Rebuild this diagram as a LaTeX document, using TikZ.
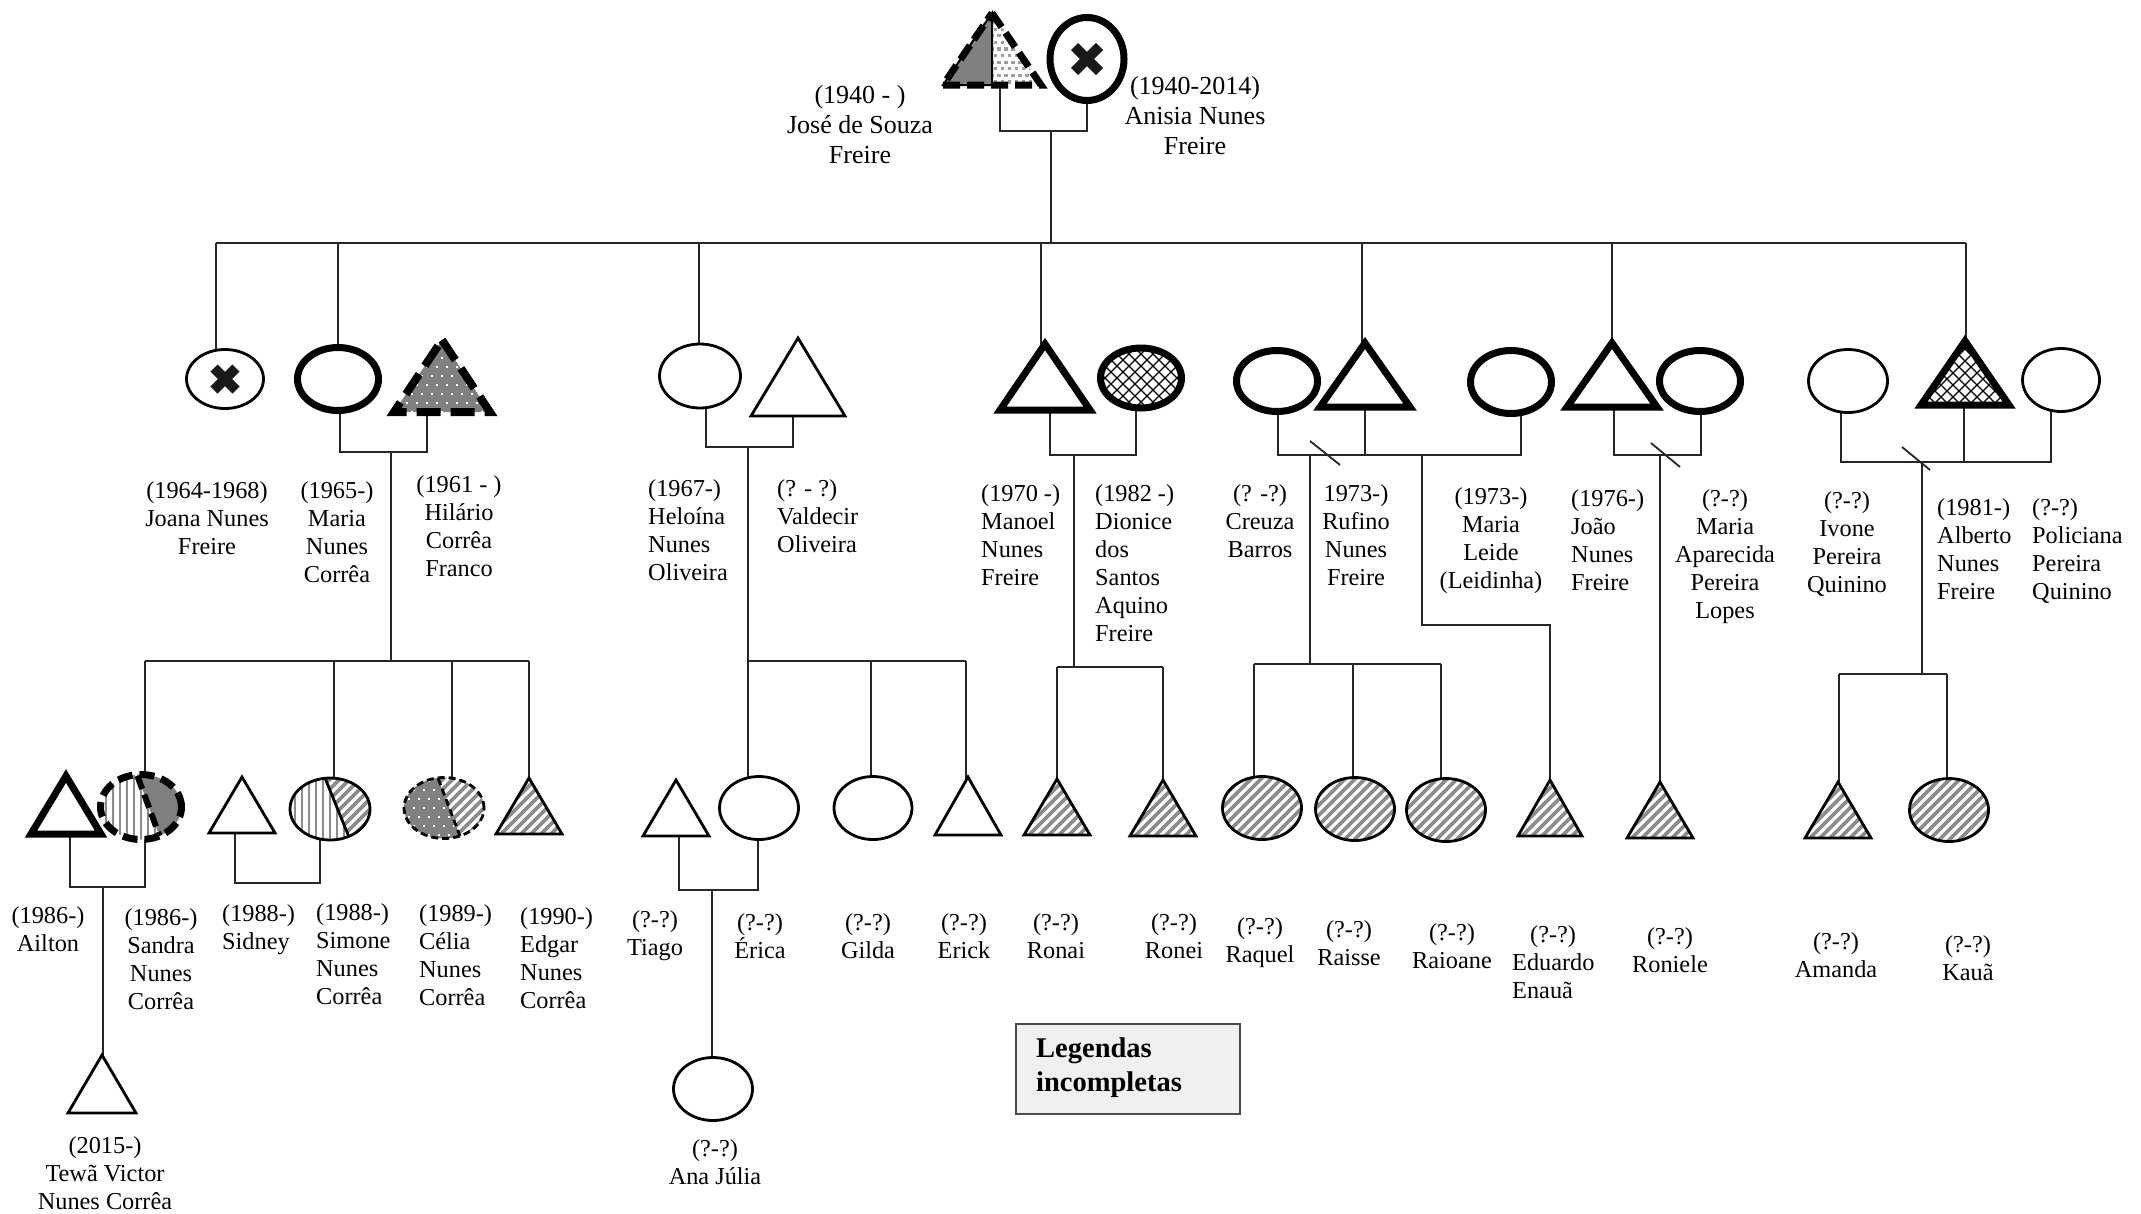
\documentclass[tikz,border=0pt]{standalone}
\usepackage{fontspec}
\setmainfont{Liberation Serif}
% local outlines: triangle (half width, half height) and ellipse (radii)
\newcommand\trip[2]{(0,-#2) -- (#1,#2) -- (-#1,#2) -- cycle}
\newcommand\ellp[2]{(0,0) ellipse [x radius=#1pt, y radius=#2pt]}
% fill patterns, drawn in local coordinates and clipped by the caller
\newcommand\PatDiag{\foreach \t in {-140,-130,...,140}{\draw[black!45,line width=3.6pt] ({\t-70},70) -- ({\t+70},-70);}}
\newcommand\PatVert{\foreach \t in {-63,-56,...,63}{\draw[black!45,line width=2.8pt] (\t,-70) -- (\t,70);}}
\newcommand\PatCross{\foreach \t in {-144,-132,...,144}{\draw[line width=1.2pt] ({\t-70},70) -- ({\t+70},-70);\draw[line width=1.2pt] ({\t-70},-70) -- ({\t+70},70);}}
\newcommand\PatWDots{\foreach \i in {-7,...,7}{\foreach \j in {-8,...,8}{\fill[white] ({\i*10+5*mod(\j+20,2)-1.1},{\j*9-1.1}) rectangle +(2.2,2.2);}}}
\newcommand\PatGDots{\foreach \i in {-10,...,10}{\foreach \j in {-10,...,10}{\fill[black!38] ({\i*7+3.5*mod(\j+20,2)-1.6},{\j*6.6-1.6}) rectangle +(3.2,3.2);}}}
\newcommand\Xmark[1]{\draw[line width=10pt,black!90] (-#1,-#1) -- (#1,#1) (-#1,#1) -- (#1,-#1);}
\newcommand\plainshape[2]{\fill[white] #2; \draw[#1] #2;}
\newcommand\stripedshape[2]{\begin{scope}\clip #2; \fill[white] #2; \PatDiag\end{scope}\draw[#1] #2;}
\begin{document}
\begin{tikzpicture}[x=1pt,y=-1pt,
  link/.style={line width=1.8pt,draw=black!85},
  norml/.style={line width=2.8pt},
  boldl/.style={line width=7pt},
  lab/.style={font=\fontsize{24.3}{28}\selectfont,align=center,anchor=north,inner sep=0pt},
  labl/.style={lab,align=left,anchor=north west},
  labtop/.style={font=\fontsize{26}{30}\selectfont,align=center,anchor=north,inner sep=0pt}]

\useasboundingbox (0,0) rectangle (2141,1213);
\fill[white] (0,0) rectangle (2141,1213);

% ---------- people (shape centres)
\coordinate (jose) at (992,49);
\coordinate (anisia) at (1087,59);
\coordinate (joana) at (225,379);
\coordinate (maria) at (338,379);
\coordinate (hilario) at (442,376);
\coordinate (heloina) at (700,376);
\coordinate (valdecir) at (798,377);
\coordinate (manoel) at (1045,377);
\coordinate (dionice) at (1141,378);
\coordinate (creuza) at (1277,381);
\coordinate (rufino) at (1365,375);
\coordinate (leide) at (1511,382);
\coordinate (joao) at (1612,375);
\coordinate (aparecida) at (1700,381);
\coordinate (ivone) at (1848,381);
\coordinate (alberto) at (1965,373);
\coordinate (policiana) at (2061,380);
\coordinate (ailton) at (66,805);
\coordinate (sandra) at (141,807);
\coordinate (sidney) at (242,805);
\coordinate (simone) at (330,809);
\coordinate (celia) at (444,808);
\coordinate (edgar) at (529,806);
\coordinate (tewa) at (102,1084);
\coordinate (tiago) at (676,808);
\coordinate (erica) at (759,808);
\coordinate (gilda) at (873,808);
\coordinate (erick) at (968,806);
\coordinate (ronai) at (1057,807);
\coordinate (ronei) at (1163,808);
\coordinate (raquel) at (1262,808);
\coordinate (raisse) at (1355,809);
\coordinate (raioane) at (1446,810);
\coordinate (eduardo) at (1550,808);
\coordinate (roniele) at (1660,810);
\coordinate (amanda) at (1838,810);
\coordinate (kaua) at (1949,810);
\coordinate (anajulia) at (713,1089);

% ---------- unions and sibling bars
\coordinate (u0) at (1051,131);  \coordinate (s0) at (1051,243);
\coordinate (u1) at (391,452);   \coordinate (s1) at (391,661);
\coordinate (u2) at (748,447);   \coordinate (s2) at (748,661);
\coordinate (u3) at (1074,455);  \coordinate (s3) at (1074,667);
\coordinate (u4) at (1310,455);  \coordinate (s4) at (1310,664);
\coordinate (u5) at (1422,455);  \coordinate (k5) at (1422,625);
\coordinate (u6) at (1660,455);
\coordinate (u7) at (1922,462);  \coordinate (s7) at (1922,674);
\coordinate (u8) at (103,887);
\coordinate (u9) at (280,883);
\coordinate (u10) at (712,890);

% ---------- connectors
\draw[link] ([xshift=8pt]jose) |- (u0) -| (anisia);
\draw[link] (u0) -- (s0);
\draw[link] ([xshift=-9pt]joana |- s0) -- ([xshift=1pt]alberto |- s0);
\draw[link] ([xshift=-9pt]joana |- s0) -- ([xshift=-9pt]joana);
\draw[link] (maria |- s0) -- (maria);
\draw[link] ([xshift=-1pt]heloina |- s0) -- ([xshift=-1pt]heloina);
\draw[link] ([xshift=-4pt]manoel |- s0) -- ([xshift=-4pt]manoel);
\draw[link] ([xshift=-3pt]rufino |- s0) -- ([xshift=-3pt]rufino);
\draw[link] (joao |- s0) -- (joao);
\draw[link] ([xshift=1pt]alberto |- s0) -- ([xshift=1pt]alberto);

\draw[link] ([xshift=2pt]maria) |- (u1) -| ([xshift=-15pt]hilario);
\draw[link] (u1) -- (s1);
\draw[link] ([xshift=4pt]sandra |- s1) -- (edgar |- s1);
\draw[link] ([xshift=4pt]sandra |- s1) -- ([xshift=4pt]sandra);
\draw[link] ([xshift=4pt]simone |- s1) -- ([xshift=4pt]simone);
\draw[link] ([xshift=8pt]celia |- s1) -- ([xshift=8pt]celia);
\draw[link] (edgar |- s1) -- (edgar);

\draw[link] ([xshift=6pt]heloina) |- (u2) -| ([xshift=-5pt]valdecir);
\draw[link] (u2) -- (s2);
\draw[link] (s2) -- ([xshift=-2pt]erick |- s2);
\draw[link] (s2) -- ([xshift=-11pt]erica);
\draw[link] ([xshift=-2pt]gilda |- s2) -- ([xshift=-2pt]gilda);
\draw[link] ([xshift=-2pt]erick |- s2) -- ([xshift=-2pt]erick);

\draw[link] ([xshift=5pt]manoel) |- (u3) -| ([xshift=-5pt]dionice);
\draw[link] (u3) -- (s3);
\draw[link] (ronai |- s3) -- (ronei |- s3);
\draw[link] (ronai |- s3) -- (ronai);
\draw[link] (ronei |- s3) -- (ronei);

\draw[link] ([xshift=1pt]creuza) |- ([xshift=10pt]leide |- u4) -- ([xshift=10pt]leide);
\draw[link] (rufino) -- (rufino |- u4);
\draw[link] ([yshift=14pt]u4) -- ++(30,24);
\draw[link] (u4) -- (s4);
\draw[link] ([xshift=-8pt]raquel |- s4) -- ([xshift=-5pt]raioane |- s4);
\draw[link] ([xshift=-8pt]raquel |- s4) -- ([xshift=-8pt]raquel);
\draw[link] ([xshift=-2pt]raisse |- s4) -- ([xshift=-2pt]raisse);
\draw[link] ([xshift=-5pt]raioane |- s4) -- ([xshift=-5pt]raioane);
\draw[link] (u5) |- (k5) -| (eduardo);

\draw[link] ([xshift=2pt]joao) |- (u6) -| ([xshift=1pt]aparecida);
\draw[link] ([shift={(-9pt,12pt)}]u6) -- ++(29,24);
\draw[link] (u6) -- (roniele);

\draw[link] ([xshift=-7pt]ivone) |- ([xshift=-10pt]policiana |- u7) -- ([xshift=-10pt]policiana);
\draw[link] ([xshift=-1pt]alberto) -- ([xshift=-1pt]alberto |- u7);
\draw[link] ([shift={(-20pt,15pt)}]u7) -- ++(28,23);
\draw[link] (u7) -- (s7);
\draw[link] ([xshift=1pt]amanda |- s7) -- ([xshift=-2pt]kaua |- s7);
\draw[link] ([xshift=1pt]amanda |- s7) -- ([xshift=1pt]amanda);
\draw[link] ([xshift=-2pt]kaua |- s7) -- ([xshift=-2pt]kaua);

\draw[link] ([xshift=4pt]ailton) |- (u8) -| ([xshift=4pt]sandra);
\draw[link] (u8) -- ([xshift=1pt]tewa);
\draw[link] ([xshift=-7pt]sidney) |- (u9) -| ([xshift=-10pt]simone);
\draw[link] ([xshift=3pt]tiago) |- (u10) -| ([xshift=-1pt]erica);
\draw[link] (u10) -- ([xshift=-1pt]anajulia);

% ---------- first generation
\begin{scope}[shift={(jose)}]
  \fill[white] \trip{49}{36};
  \fill[black!50] (0,-36) -- (-49,36) -- (0,36) -- cycle;
  \begin{scope}\clip (0,-36) -- (49,36) -- (0,36) -- cycle; \PatGDots\end{scope}
  \draw[line width=2pt] (0,-36) -- (-49,36) -- (0,36) -- cycle;
  \draw[boldl,dash pattern=on 17pt off 7pt] \trip{49}{36};
\end{scope}
\begin{scope}[shift={(anisia)}]
  \plainshape{boldl}{\ellp{37}{41.5}}
  \Xmark{12.5}
\end{scope}

% ---------- second generation
\begin{scope}[shift={(joana)}]
  \plainshape{norml}{\ellp{38.5}{29.5}}
  \Xmark{11}
\end{scope}
\begin{scope}[shift={(maria)}]\plainshape{boldl}{\ellp{40.5}{31.5}}\end{scope}
\begin{scope}[shift={(hilario)}]
  \begin{scope}\clip \trip{48}{36}; \fill[black!50] \trip{48}{36}; \PatWDots\end{scope}
  \draw[line width=8pt,dash pattern=on 24pt off 10pt] \trip{48}{36};
\end{scope}
\begin{scope}[shift={(heloina)}]\plainshape{norml}{\ellp{40.5}{32}}\end{scope}
\begin{scope}[shift={(valdecir)}]\plainshape{norml}{\trip{47}{39}}\end{scope}
\begin{scope}[shift={(manoel)}]\plainshape{boldl}{\trip{45}{33}}\end{scope}
\begin{scope}[shift={(dionice)}]
  \begin{scope}\clip \ellp{40.5}{30}; \fill[white] \ellp{40.5}{30}; \PatCross\end{scope}
  \draw[boldl] \ellp{40.5}{30};
\end{scope}
\begin{scope}[shift={(creuza)}]\plainshape{boldl}{\ellp{40.5}{30.5}}\end{scope}
\begin{scope}[shift={(rufino)}]\plainshape{boldl}{\trip{45}{32}}\end{scope}
\begin{scope}[shift={(leide)}]\plainshape{boldl}{\ellp{40.5}{31.5}}\end{scope}
\begin{scope}[shift={(joao)}]\plainshape{boldl}{\trip{45}{32}}\end{scope}
\begin{scope}[shift={(aparecida)}]\plainshape{boldl}{\ellp{40.5}{30.5}}\end{scope}
\begin{scope}[shift={(ivone)}]\plainshape{norml}{\ellp{39.5}{31.5}}\end{scope}
\begin{scope}[shift={(alberto)}]
  \begin{scope}\clip \trip{44}{32}; \fill[white] \trip{44}{32}; \PatCross\end{scope}
  \draw[boldl] \trip{44}{32};
\end{scope}
\begin{scope}[shift={(policiana)}]\plainshape{norml}{\ellp{38.5}{31.5}}\end{scope}

% ---------- third generation
\begin{scope}[shift={(ailton)}]\plainshape{boldl}{\trip{35}{29}}\end{scope}
\begin{scope}[shift={(sandra)}]
  \begin{scope}
    \clip \ellp{40.5}{32.5};
    \fill[white] \ellp{40.5}{32.5};
    \begin{scope}\clip (-60,-50) -- (-10.6,-50) -- (26.3,50) -- (-60,50) -- cycle; \PatVert\end{scope}
    \fill[black!50] (-10.6,-50) -- (60,-50) -- (60,50) -- (26.3,50) -- cycle;
    \draw[line width=6pt,dash pattern=on 14pt off 6pt] (-10.6,-50) -- (26.3,50);
  \end{scope}
  \draw[boldl,dash pattern=on 15pt off 7pt] \ellp{40.5}{32.5};
\end{scope}
\begin{scope}[shift={(sidney)}]\plainshape{norml}{\trip{33}{28}}\end{scope}
\begin{scope}[shift={(simone)}]
  \begin{scope}
    \clip \ellp{40}{31};
    \fill[white] \ellp{40}{31};
    \begin{scope}\clip (-60,-50) -- (-12.7,-50) -- (28,50) -- (-60,50) -- cycle; \PatVert\end{scope}
    \begin{scope}\clip (-12.7,-50) -- (60,-50) -- (60,50) -- (28,50) -- cycle; \PatDiag\end{scope}
  \end{scope}
  \draw[norml] (-5,-31) -- (19,28);
  \draw[norml] \ellp{40}{31};
\end{scope}
\begin{scope}[shift={(celia)}]
  \begin{scope}
    \clip \ellp{40}{30.5};
    \fill[white] \ellp{40}{30.5};
    \begin{scope}\clip (-60,-50) -- (-13.6,-50) -- (24.3,50) -- (-60,50) -- cycle;
      \fill[black!50] (-60,-50) rectangle (60,50); \PatWDots\end{scope}
    \begin{scope}\clip (-13.6,-50) -- (60,-50) -- (60,50) -- (24.3,50) -- cycle; \PatDiag\end{scope}
    \draw[norml,dash pattern=on 7pt off 4pt] (-13.6,-50) -- (24.3,50);
  \end{scope}
  \draw[norml,dash pattern=on 7pt off 4pt] \ellp{40}{30.5};
\end{scope}
\begin{scope}[shift={(edgar)}]\stripedshape{norml}{\trip{33}{28}}\end{scope}
\begin{scope}[shift={(tewa)}]\plainshape{norml}{\trip{34}{29}}\end{scope}
\begin{scope}[shift={(tiago)}]\plainshape{norml}{\trip{33}{28}}\end{scope}
\begin{scope}[shift={(erica)}]\plainshape{norml}{\ellp{39.5}{31.5}}\end{scope}
\begin{scope}[shift={(gilda)}]\plainshape{norml}{\ellp{39}{31.5}}\end{scope}
\begin{scope}[shift={(erick)}]\plainshape{norml}{\trip{33}{29}}\end{scope}
\begin{scope}[shift={(ronai)}]\stripedshape{norml}{\trip{33}{28}}\end{scope}
\begin{scope}[shift={(ronei)}]\stripedshape{norml}{\trip{33}{28}}\end{scope}
\begin{scope}[shift={(raquel)}]\stripedshape{norml}{\ellp{39.5}{31.5}}\end{scope}
\begin{scope}[shift={(raisse)}]\stripedshape{norml}{\ellp{39.5}{31.5}}\end{scope}
\begin{scope}[shift={(raioane)}]\stripedshape{norml}{\ellp{39.5}{31.5}}\end{scope}
\begin{scope}[shift={(eduardo)}]\stripedshape{norml}{\trip{32}{28}}\end{scope}
\begin{scope}[shift={(roniele)}]\stripedshape{norml}{\trip{33}{28}}\end{scope}
\begin{scope}[shift={(amanda)}]\stripedshape{norml}{\trip{33}{28}}\end{scope}
\begin{scope}[shift={(kaua)}]\stripedshape{norml}{\ellp{39.5}{31.5}}\end{scope}
\begin{scope}[shift={(anajulia)}]\plainshape{norml}{\ellp{39.5}{31.5}}\end{scope}

% ---------- names and dates
\node[labtop] (tx-jose) at (860,85) {(1940 - )\\José de Souza\\Freire};
\node[labtop] (tx-anisia) at (1195,76) {(1940-2014)\\Anisia Nunes\\Freire};

\node[lab] (tx-joana) at (207,481) {(1964-1968)\\Joana Nunes\\Freire};
\node[lab] (tx-maria) at (337,481) {(1965-)\\Maria\\Nunes\\Corrêa};
\node[lab] (tx-hilario) at (459,475) {(1961 - )\\Hilário\\Corrêa\\Franco};
\node[labl] (tx-heloina) at (648,479) {(1967-)\\Heloína\\Nunes\\Oliveira};
\node[labl] (tx-valdecir) at (777,479) {(? - ?)\\Valdecir\\Oliveira};
\node[labl] (tx-manoel) at (981,484) {(1970 -)\\Manoel\\Nunes\\Freire};
\node[labl] (tx-dionice) at (1095,484) {(1982 -)\\Dionice\\dos\\Santos\\Aquino\\Freire};
\node[lab] (tx-creuza) at (1260,484) {(? -?)\\Creuza\\Barros};
\node[lab] (tx-rufino) at (1356,484) {1973-)\\Rufino\\Nunes\\Freire};
\node[lab] (tx-leide) at (1491,487) {(1973-)\\Maria\\Leide\\(Leidinha)};
\node[labl] (tx-joao) at (1571,489) {(1976-)\\João\\Nunes\\Freire};
\node[lab] (tx-aparecida) at (1725,489) {(?-?)\\Maria\\Aparecida\\Pereira\\Lopes};
\node[lab] (tx-ivone) at (1847,491) {(?-?)\\Ivone\\Pereira\\Quinino};
\node[labl] (tx-alberto) at (1937,498) {(1981-)\\Alberto\\Nunes\\Freire};
\node[labl] (tx-policiana) at (2032,498) {(?-?)\\Policiana\\Pereira\\Quinino};

\node[lab] (tx-ailton) at (48,906) {(1986-)\\Ailton};
\node[lab] (tx-sandra) at (161,908) {(1986-)\\Sandra\\Nunes\\Corrêa};
\node[labl] (tx-sidney) at (222,904) {(1988-)\\Sidney};
\node[labl] (tx-simone) at (316,903) {(1988-)\\Simone\\Nunes\\Corrêa};
\node[labl] (tx-celia) at (419,904) {(1989-)\\Célia\\Nunes\\Corrêa};
\node[labl] (tx-edgar) at (520,907) {(1990-)\\Edgar\\Nunes\\Corrêa};
\node[lab] (tx-tewa) at (105,1136) {(2015-)\\Tewã Victor\\Nunes Corrêa};
\node[lab] (tx-tiago) at (655,910) {(?-?)\\Tiago};
\node[lab] (tx-erica) at (760,913) {(?-?)\\Érica};
\node[lab] (tx-gilda) at (868,913) {(?-?)\\Gilda};
\node[lab] (tx-erick) at (964,913) {(?-?)\\Erick};
\node[lab] (tx-ronai) at (1056,913) {(?-?)\\Ronai};
\node[lab] (tx-ronei) at (1174,913) {(?-?)\\Ronei};
\node[lab] (tx-raquel) at (1260,917) {(?-?)\\Raquel};
\node[lab] (tx-raisse) at (1349,920) {(?-?)\\Raisse};
\node[lab] (tx-raioane) at (1452,923) {(?-?)\\Raioane};
\node[labl] (tx-eduardo) at (1512,925) {\hspace*{18pt}(?-?)\\Eduardo\\Enauã};
\node[lab] (tx-roniele) at (1670,927) {(?-?)\\Roniele};
\node[lab] (tx-amanda) at (1836,932) {(?-?)\\Amanda};
\node[lab] (tx-kaua) at (1968,935) {(?-?)\\Kauã};
\node[lab] (tx-anajulia) at (715,1139) {(?-?)\\Ana Júlia};

% ---------- legend box
\node[draw=black!70,line width=2pt,fill=black!6,minimum width=224pt,minimum height=90pt,
      anchor=north west,inner sep=0pt] (legend) at (1015,1023) {};
\node[anchor=north west,inner sep=0pt,align=left,
      font=\fontsize{28.5}{34}\selectfont\bfseries] (legend-text) at (1036,1038) {Legendas\\incompletas};
\end{tikzpicture}
\end{document}
